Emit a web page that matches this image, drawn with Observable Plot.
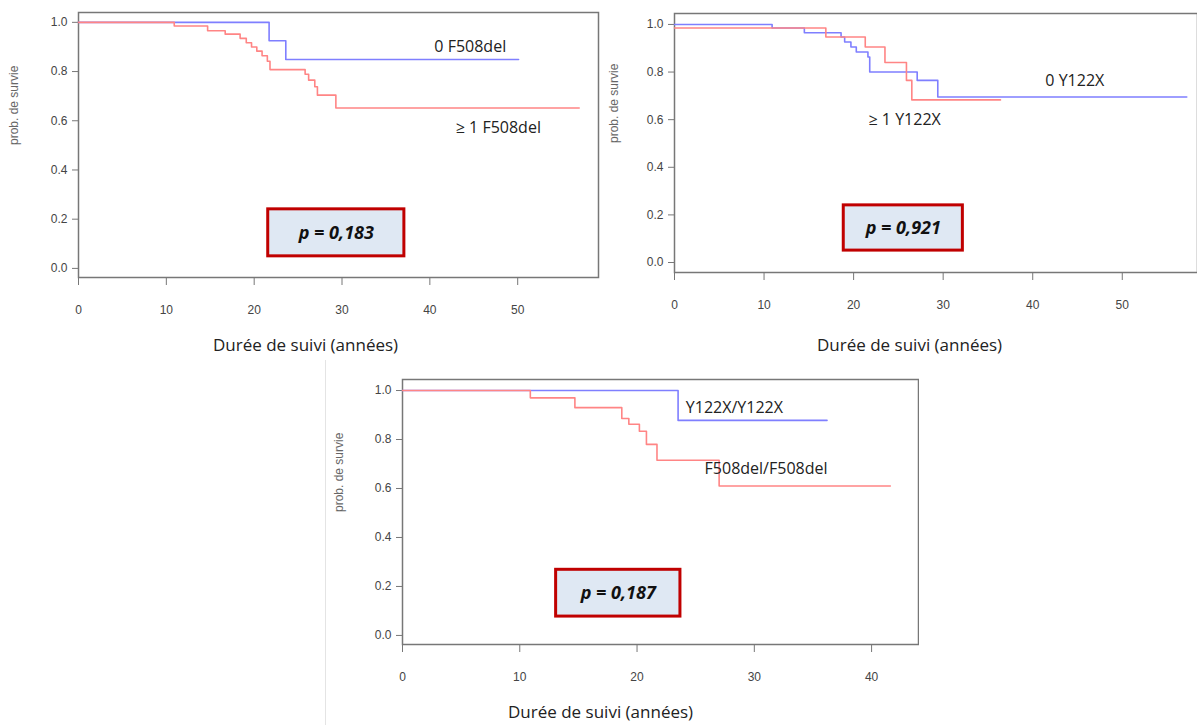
<!DOCTYPE html>
<html><head><meta charset="utf-8">
<script src="https://cdn.jsdelivr.net/npm/d3@7"></script>
<script src="https://cdn.jsdelivr.net/npm/@observablehq/plot@0.6"></script>
<style>
body{margin:0;background:#fff;width:1197px;height:725px;position:relative;overflow:hidden;font-family:"Open Sans",sans-serif}
.p{position:absolute}
.xl{position:absolute;font-size:17px;color:#222;font-family:"Open Sans",sans-serif}
</style></head><body>
<div id="c1" class="p" style="left:0;top:0"></div>
<div id="c2" class="p" style="left:600px;top:0"></div>
<div id="c3" class="p" style="left:325px;top:360px"></div>
<div style="position:absolute;left:325px;top:360px;width:1px;height:365px;background:#e4e4e4"></div>
<div class="xl" style="left:213px;top:333px">Durée de suivi (années)</div>
<div class="xl" style="left:817px;top:333px">Durée de suivi (années)</div>
<div class="xl" style="left:508px;top:700px">Durée de suivi (années)</div>
<script>
// panel 1 : F508del
const p1_none_t = [0, 21.7, 23.6, 50.1]
const p1_none_s = [1, 0.925, 0.849, 0.849]
const p1_one_t = [0, 10.9, 14.7, 16.7, 18.4, 19.1, 19.7, 20.3, 20.9, 21.5, 21.8, 25.8, 26.2, 26.9, 27.2, 29.3, 57]
const p1_one_s = [1, 0.985, 0.966, 0.952, 0.935, 0.917, 0.90, 0.883, 0.864, 0.842, 0.808, 0.789, 0.765, 0.738, 0.704, 0.652, 0.652]
// panel 2 : Y122X
const p2_none_t = [0, 10.9, 14.5, 18.6, 19, 19.7, 20.3, 21.6, 21.8, 27.1, 29.4, 57.2]
const p2_none_s = [1, 0.985, 0.965, 0.947, 0.926, 0.905, 0.884, 0.863, 0.80, 0.765, 0.695, 0.695]
const p2_one_t = [0, 16.9, 21.3, 23.5, 25.9, 26.5, 36.4]
const p2_one_s = [0.985, 0.947, 0.905, 0.84, 0.765, 0.683, 0.683]
// panel 3 : homozygotes
const p3_y_t = [0, 23.5, 36.2]
const p3_y_s = [1, 0.878, 0.878]
const p3_f_t = [0, 10.9, 14.7, 18.7, 19.3, 20.2, 20.8, 21.7, 27.0, 41.6]
const p3_f_s = [1, 0.97, 0.93, 0.886, 0.862, 0.834, 0.78, 0.715, 0.61, 0.61]

const blue = "#7f7fff", red = "#ff8585"
const series = (t, s) => t.map((d, i) => ({t: d, s: s[i]}))

function panel(el, o) {
  const chart = Plot.plot({
    width: o.width, height: o.height,
    marginLeft: o.ml, marginRight: o.mr, marginTop: o.mt, marginBottom: o.mb,
    x: {domain: o.xd, label: null},
    y: {domain: o.yd, label: null},
    style: {fontFamily: "Liberation Sans, sans-serif", fontSize: "12px", color: "#444"},
    marks: [
      Plot.frame({stroke: "#777", strokeWidth: 1.5}),
      Plot.axisY({ticks: [0, 0.2, 0.4, 0.6, 0.8, 1], tickFormat: ".1f", tickSize: 6, tickPadding: 5, stroke: "#777"}),
      Plot.axisX({ticks: o.xticks, tickFormat: "d", tickSize: 8, tickPadding: 20, stroke: "#777"}),
      Plot.text(["prob. de survie"], {frameAnchor: "left", rotate: -90, dx: -o.ml + 14, fontSize: 12, fill: "#666"}),
      Plot.line(series(o.a_t, o.a_s), {x: "t", y: "s", curve: "step-after", stroke: blue, strokeWidth: 1.6}),
      Plot.line(series(o.b_t, o.b_s), {x: "t", y: "s", curve: "step-after", stroke: red, strokeWidth: 1.6}),
      Plot.rect([o.box], {x1: "x1", x2: "x2", y1: "y1", y2: "y2", fill: "#dfe8f3", stroke: "#c00000", strokeWidth: 3}),
      Plot.text([o.box], {x: d => (d.x1 + d.x2) / 2, y: d => (d.y1 + d.y2) / 2, text: "p", fontSize: 18, fontWeight: "bold", fontStyle: "italic", fill: "#111", fontFamily: "Open Sans"}),
      Plot.text(o.labels, {x: "x", y: "y", text: "text", fontSize: 16, fill: "#222", fontFamily: "Open Sans"})
    ]
  })
  document.getElementById(el).append(chart)
}

panel("c1", {width: 600, height: 330, ml: 78, mr: 2, mt: 12, mb: 53,
  xd: [0, 59.2], yd: [-0.037, 1.04], xticks: [0, 10, 20, 30, 40, 50],
  a_t: p1_none_t, a_s: p1_none_s, b_t: p1_one_t, b_s: p1_one_s,
  box: {x1: 21.6, x2: 37.1, y1: 0.049, y2: 0.24, p: "p = 0,183"},
  labels: [{x: 44.6, y: 0.9, text: "0 F508del"}, {x: 47.8, y: 0.57, text: "≥ 1 F508del"}]})

panel("c2", {width: 597, height: 330, ml: 74, mr: 0, mt: 13, mb: 58,
  xd: [0, 58.4], yd: [-0.042, 1.046], xticks: [0, 10, 20, 30, 40, 50],
  a_t: p2_none_t, a_s: p2_none_s, b_t: p2_one_t, b_s: p2_one_s,
  box: {x1: 18.9, x2: 32.2, y1: 0.05, y2: 0.24, p: "p = 0,921"},
  labels: [{x: 44.7, y: 0.765, text: "0 Y122X"}, {x: 25.7, y: 0.6, text: "≥ 1 Y122X"}]})

panel("c3", {width: 594, height: 330, ml: 77, mr: 1, mt: 19, mb: 46,
  xd: [0, 44], yd: [-0.037, 1.045], xticks: [0, 10, 20, 30, 40],
  a_t: p3_y_t, a_s: p3_y_s, b_t: p3_f_t, b_s: p3_f_s,
  box: {x1: 13.1, x2: 23.7, y1: 0.077, y2: 0.268, p: "p = 0,187"},
  labels: [{x: 28.3, y: 0.93, text: "Y122X/Y122X"}, {x: 31, y: 0.68, text: "F508del/F508del"}]})
</script>
</body></html>
